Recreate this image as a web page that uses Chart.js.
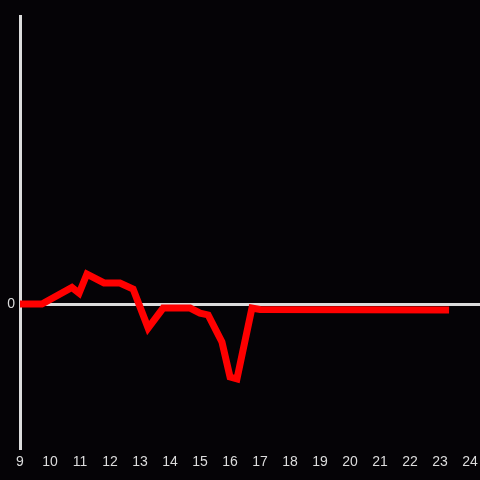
<!DOCTYPE html>
<html>
<head>
<meta charset="utf-8">
<script src="https://cdn.jsdelivr.net/npm/chart.js@4/dist/chart.umd.min.js"></script>
<style>
  html, body { margin: 0; padding: 0; background: #050306; }
  #wrap { width: 480px; height: 480px; position: relative; }
</style>
</head>
<body>
<div id="wrap"><canvas id="chart"></canvas></div>
<script>
// hour of day and the value at that time
const hours  = [9.0, 9.73, 10.73, 10.97, 11.23, 11.8, 12.33, 12.77, 13.27, 13.77, 14.67, 15.0, 15.27, 15.73, 16.0, 16.23, 16.73, 17.0, 23.3];
const values = [0, 0, 1.15, 0.75, 2.08, 1.46, 1.46, 1.04, -1.67, -0.28, -0.28, -0.63, -0.76, -2.64, -5.07, -5.2, -0.28, -0.38, -0.42];
const xTicks = [9, 10, 11, 12, 13, 14, 15, 16, 17, 18, 19, 20, 21, 22, 23, 24];

const points = hours.map((h, i) => ({ x: h, y: values[i] }));
const axisColor = '#dcdcdc';

document.addEventListener('DOMContentLoaded', () => {
    const ctx = document.getElementById('chart').getContext('2d');
    new Chart(ctx, {
        type: 'line',
        data: {
            datasets: [{
                data: points,
                borderColor: '#ff0000',
                borderWidth: 7,
                borderJoinStyle: 'miter',
                pointRadius: 0,
                tension: 0,
                fill: false
            }]
        },
        options: {
            responsive: true,
            maintainAspectRatio: false,
            animation: false,
            layout: { padding: { top: 16, right: 0, left: 0, bottom: 0 } },
            plugins: { legend: { display: false }, tooltip: { enabled: false } },
            scales: {
                x: {
                    type: 'linear',
                    min: 9,
                    max: 24.33,
                    grid: { display: false, drawTicks: false },
                    border: { display: false },
                    afterBuildTicks: s => { s.ticks = xTicks.map(v => ({ value: v })); },
                    afterFit: s => { s.height = 32; s.paddingRight = 0; s.paddingLeft = 0; },
                    ticks: {
                        color: axisColor,
                        padding: 6,
                        maxRotation: 0,
                        autoSkip: false,
                        font: { family: 'Liberation Sans', size: 14 }
                    }
                },
                y: {
                    min: -10,
                    max: 20,
                    afterBuildTicks: s => { s.ticks = [{ value: 0 }]; },
                    afterFit: s => { s.width = 20; },
                    grid: {
                        drawTicks: false,
                        color: axisColor,
                        lineWidth: 3
                    },
                    border: { display: true, color: axisColor, width: 3 },
                    ticks: {
                        color: axisColor,
                        padding: 5,
                        font: { family: 'Liberation Sans', size: 14 }
                    }
                }
            }
        }
    });
});
</script>
</body>
</html>
